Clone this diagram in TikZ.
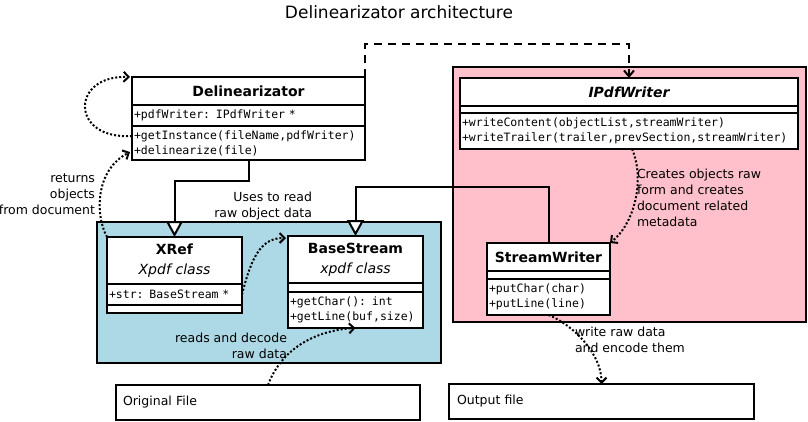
\documentclass[tikz,border=0pt]{standalone}
\usepackage{fontspec}
\setmainfont{DejaVu Sans}
\setmonofont{DejaVu Sans Mono}
\usepackage{tikz}
\usetikzlibrary{arrows.meta,positioning}
\definecolor{writerpink}{HTML}{FFC0CB}
\definecolor{xpdfblue}{HTML}{ADD8E6}

\begin{document}
\begin{tikzpicture}
[x=1pt, y=-1pt, line width=2pt,
% STYLES
every node/.style={outer sep=0pt},
% The area style is used for the coloured groups of classes
area/.style={rectangle, draw, anchor=north west, inner sep=0pt},
% The classname style draws the top compartment of each class
classname/.style={rectangle, draw, fill=white, text width=#1, inner xsep=2pt, inner ysep=0pt, align=center, font=\fontsize{14}{20}\selectfont\bfseries},
% The member style draws the attribute and operation compartments
member/.style={rectangle, draw, fill=white, text width=#1, inner xsep=2pt, inner ysep=0pt, align=left, font=\fontsize{11.5}{15}\selectfont\ttfamily},
filebox/.style={rectangle, draw, fill=white, anchor=north west, minimum height=35pt, inner ysep=0pt, align=left, font=\fontsize{12.5}{16}\selectfont},
note/.style={inner sep=0pt, font=\fontsize{12.5}{16}\selectfont},
% Connectors
uses/.style={-{Triangle[fill=white, length=16pt, width=17pt]}},
depends/.style={dash pattern=on 8pt off 6pt, -{Straight Barb[length=6pt, width=10pt]}},
flow/.style={dash pattern=on 2pt off 2pt, -{Straight Barb[length=5pt, width=10pt]}}]

\useasboundingbox (0,0) rectangle (808,421);

\node [font=\fontsize{17}{20}\selectfont] (title) at (399,12) {Delinearizator architecture};

% Draw areas
\node [area, fill=writerpink, minimum width=353pt, minimum height=255pt] (writer-area) at (453,67) {};
\node [area, fill=xpdfblue, minimum width=344pt, minimum height=141pt] (xpdf-area) at (97,222) {};

% Draw classes
\node [classname=229pt, minimum height=28pt, anchor=north west] (delin) at (132,77) {Delinearizator};
\node [member=229pt, minimum height=21pt, below=0pt of delin] (delin-attr) {+pdfWriter: IPdfWriter *};
\node [member=229pt, minimum height=34pt, below=0pt of delin-attr] (delin-ops) {+getInstance(fileName,pdfWriter)\\+delinearize(file)};

\node [classname=334pt, minimum height=28pt, anchor=north west] (iwriter) at (460,78) {\itshape IPdfWriter};
\node [member=334pt, minimum height=7pt, below=0pt of iwriter] (iwriter-attr) {};
\node [member=334pt, minimum height=36pt, below=0pt of iwriter-attr] (iwriter-ops) {+writeContent(objectList,streamWriter)\\+writeTrailer(trailer,prevSection,streamWriter)};

\node [classname=119pt, minimum height=28pt, anchor=north west] (swriter) at (487,243) {StreamWriter};
\node [member=119pt, minimum height=8pt, below=0pt of swriter] (swriter-attr) {};
\node [member=119pt, minimum height=36pt, below=0pt of swriter-attr] (swriter-ops) {+putChar(char)\\+putLine(line)};

\node [classname=131pt, minimum height=47pt, anchor=north west] (xref) at (107,237) {XRef\\{\mdseries\itshape Xpdf class}};
\node [member=131pt, minimum height=21pt, below=0pt of xref] (xref-attr) {+str: BaseStream *};
\node [member=131pt, minimum height=8pt, below=0pt of xref-attr] (xref-ops) {};

\node [classname=131pt, minimum height=47pt, anchor=north west] (bstream) at (288,236) {BaseStream\\{\mdseries\itshape xpdf class}};
\node [member=131pt, minimum height=9pt, below=0pt of bstream] (bstream-attr) {};
\node [member=131pt, minimum height=36pt, below=0pt of bstream-attr] (bstream-ops) {+getChar(): int\\+getLine(buf,size)};

% Files
\node [filebox, inner xsep=7pt, text width=290pt] (original) at (116,385) {Original File};
\node [filebox, inner xsep=8pt, text width=289pt] (output) at (449,384) {Output file};

%%%%%%%%%%%%%%%
% Notes
\node [note, anchor=east, align=right] (returns-note) at (95,194) {returns\\objects\\from document};
\node [note, anchor=east, align=right] (uses-note) at (312,206) {Uses to read\\raw object data};
\node [note, anchor=west, align=left] (creates-note) at (637,198) {Creates objects raw\\form and creates\\document related\\metadata};
\node [note, anchor=east, align=right] (reads-note) at (287,346) {reads and decode\\raw data};
\node [note, anchor=west, align=left] (write-note) at (575,340) {write raw data\\and encode them};
%%%%%%%%%%%%%%%

% Draw the links between classes
\draw [uses] (delin-ops.south) -- ++(0,21) -| (xref.north);
\draw [uses] (swriter.north) -- ++(0,-56) -| (bstream.north);
\draw [depends] (delin.north east) -- ++(0,-33) -| (iwriter.north);

\draw [flow] ([yshift=-10pt]delin-ops.north west) .. controls +(-62,4) and +(-60,-2) .. ([xshift=-2pt]delin.north west);
\draw [flow] (xref.north west) .. controls +(-12,-22) and +(-35,18) .. ([xshift=-2pt,yshift=-9pt]delin-ops.west);
\draw [flow] (xref-attr.east) .. controls +(10,-40) and +(-24,0) .. ([xshift=-2pt,yshift=-2pt]bstream.north west);
\draw [flow] (original.north) .. controls +(15,-40) and +(-35,2) .. (bstream-ops.south);
\draw [flow] ([xshift=3pt]iwriter-ops.south) .. controls +(13,30) and +(25,-20) .. (swriter.north east);
\draw [flow] (swriter-ops.south) .. controls +(25,10) and +(0,-30) .. (output.north);

\end{tikzpicture}
\end{document}
